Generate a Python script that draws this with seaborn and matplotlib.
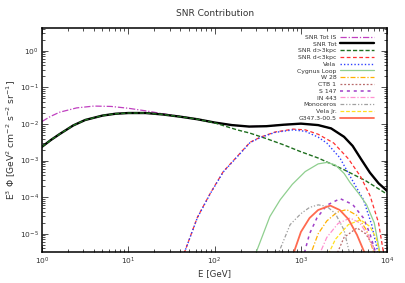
import numpy as np
import pandas as pd
import seaborn as sns
import matplotlib
matplotlib.use("Agg")
import matplotlib.pyplot as plt
from matplotlib.ticker import LogLocator, NullFormatter

# values, as log10(E/GeV) and log10(E^3 Phi)
tot_logE = [0.0, 0.1, 0.2, 0.36, 0.5, 0.7, 0.85, 1.0, 1.2, 1.4, 1.6, 1.8, 2.0, 2.2, 2.4, 2.6, 2.8, 3.0, 3.2, 3.35, 3.5, 3.6, 3.7, 3.8, 3.9, 4.0]
tot_logF = [-2.62, -2.44, -2.28, -2.04, -1.89, -1.77, -1.72, -1.70, -1.70, -1.74, -1.80, -1.87, -1.96, -2.03, -2.07, -2.06, -2.02, -1.99, -2.03, -2.12, -2.35, -2.60, -2.97, -3.33, -3.62, -3.83]

totis_logE = [0.0, 0.1, 0.2, 0.4, 0.6, 0.8, 1.0, 1.2, 1.4, 1.6, 1.8, 2.0, 2.2, 2.4, 2.6, 2.8, 3.0, 3.2, 3.35, 3.5, 3.6, 3.7, 3.8, 3.9, 4.0]
totis_logF = [-1.93, -1.79, -1.68, -1.56, -1.51, -1.52, -1.57, -1.64, -1.72, -1.79, -1.87, -1.96, -2.03, -2.07, -2.06, -2.02, -1.99, -2.03, -2.12, -2.35, -2.60, -2.97, -3.33, -3.62, -3.83]

far_logE = [0.0, 0.1, 0.2, 0.36, 0.5, 0.7, 0.85, 1.0, 1.2, 1.4, 1.6, 1.8, 2.0, 2.26, 2.41, 2.6, 2.8, 2.99, 3.2, 3.5, 3.75, 4.0]
far_logF = [-2.62, -2.44, -2.28, -2.04, -1.89, -1.77, -1.72, -1.70, -1.70, -1.74, -1.80, -1.87, -1.97, -2.16, -2.25, -2.40, -2.57, -2.75, -2.93, -3.25, -3.55, -3.92]

near_logE = [1.62, 1.8, 1.95, 2.1, 2.26, 2.41, 2.53, 2.7, 2.91, 3.05, 3.2, 3.38, 3.55, 3.69, 3.8, 3.9, 3.97]
near_logF = [-5.7, -4.55, -3.89, -3.30, -2.89, -2.50, -2.36, -2.22, -2.14, -2.16, -2.28, -2.52, -2.95, -3.43, -3.95, -4.7, -5.7]

vela_logE = [1.62, 1.8, 1.95, 2.1, 2.26, 2.41, 2.53, 2.7, 2.91, 3.05, 3.2, 3.3, 3.45, 3.57, 3.725, 3.82, 3.91]
vela_logF = [-5.7, -4.56, -3.90, -3.31, -2.90, -2.51, -2.37, -2.23, -2.16, -2.20, -2.36, -2.52, -2.92, -3.43, -4.07, -4.75, -5.7]

cyg_logE = [2.45, 2.64, 2.76, 2.9, 3.05, 3.2, 3.3, 3.4, 3.5, 3.57, 3.67, 3.76, 3.85, 3.93]
cyg_logF = [-5.7, -4.53, -4.07, -3.65, -3.30, -3.09, -3.05, -3.12, -3.35, -3.60, -3.90, -4.20, -4.70, -5.7]

w28_logE = [3.09, 3.2, 3.3, 3.42, 3.53, 3.65, 3.76, 3.87]
w28_logF = [-5.7, -5.0, -4.65, -4.41, -4.34, -4.50, -4.90, -5.7]

ctb1_logE = [3.39, 3.5, 3.65, 3.75, 3.83, 3.89]
ctb1_logF = [-5.7, -5.1, -4.84, -5.0, -5.3, -5.7]

s147_logE = [3.02, 3.1, 3.185, 3.3, 3.455, 3.6, 3.725, 3.8, 3.89]
s147_logF = [-5.7, -5.0, -4.57, -4.22, -4.04, -4.20, -4.57, -5.0, -5.7]

in443_logE = [3.19, 3.3, 3.43, 3.57, 3.68, 3.78, 3.89]
in443_logF = [-5.7, -5.1, -4.72, -4.57, -4.70, -5.05, -5.7]

mono_logE = [2.71, 2.875, 3.0, 3.1, 3.2, 3.3, 3.4, 3.5, 3.58]
mono_logF = [-5.7, -4.75, -4.45, -4.28, -4.21, -4.25, -4.45, -4.90, -5.7]

velajr_logE = [3.29, 3.4, 3.55, 3.69, 3.8, 3.87, 3.93]
velajr_logF = [-5.7, -5.15, -4.75, -4.62, -4.80, -5.10, -5.7]

g347_logE = [2.89, 3.0, 3.1, 3.2, 3.34, 3.45, 3.55, 3.65, 3.77]
g347_logF = [-5.7, -4.95, -4.57, -4.35, -4.23, -4.35, -4.60, -5.03, -5.7]

xticks = [1, 10, 100, 1000, 10000]
yticks = [1e-5, 1e-4, 1e-3, 1e-2, 1e-1, 1]

curves = [
    ("SNR Tot IS", totis_logE, totis_logF, "#c040c0", (5, 1.5, 1, 1.5), 0.9),
    ("SNR Tot", tot_logE, tot_logF, "black", None, 1.7),
    ("SNR d>3kpc", far_logE, far_logF, "#1f6f1f", (3, 1.5), 1.0),
    ("SNR d<3kpc", near_logE, near_logF, "#ff3030", (3, 2), 0.9),
    ("Vela", vela_logE, vela_logF, "#3040ff", (1, 1.5), 1.0),
    ("Cygnus Loop", cyg_logE, cyg_logF, "#8fcf8f", None, 0.9),
    ("W 28", w28_logE, w28_logF, "#ffb000", (4, 1.5, 1, 1.5), 0.9),
    ("CTB 1", ctb1_logE, ctb1_logF, "#b86a6a", (1.5, 1.5), 0.9),
    ("S 147", s147_logE, s147_logF, "#a040c8", (2, 2.5), 1.1),
    ("IN 443", in443_logE, in443_logF, "#ff90d0", (4, 1.5, 1, 1.5), 0.9),
    ("Monoceros", mono_logE, mono_logF, "#a0a0a0", (3, 1.5, 1, 1.5, 1, 1.5), 0.9),
    ("Vela Jr.", velajr_logE, velajr_logF, "#ffe020", (3, 1.5), 0.9),
    ("G347.3-00.5", g347_logE, g347_logF, "#ff6a50", None, 1.3),
]

sns.set_style("ticks")
plt.rcParams['font.family'] = ['DejaVu Sans']
plt.rcParams['mathtext.fontset'] = 'dejavusans'

fig = plt.figure(figsize=(4.05, 2.83), dpi=100)
ax = fig.add_axes([0.104, 0.11, 0.852, 0.791])

for name, lx, ly, col, dash, lw in curves:
    df = pd.DataFrame({"E": 10 ** np.array(lx), "F": 10 ** np.array(ly)})
    sns.lineplot(data=df, x="E", y="F", ax=ax, color=col, lw=lw,
                 label=name, sort=False)
    l = ax.get_lines()[-1]
    if dash is not None:
        l.set_dashes(dash)

ax.set_xscale("log")
ax.set_yscale("log")
ax.set_xticks(xticks)
ax.set_yticks(yticks)
ax.xaxis.set_minor_locator(LogLocator(base=10, subs=np.arange(2, 10), numticks=20))
ax.yaxis.set_minor_locator(LogLocator(base=10, subs=np.arange(2, 10), numticks=20))
ax.xaxis.set_minor_formatter(NullFormatter())
ax.yaxis.set_minor_formatter(NullFormatter())
ax.set_xlim(1, 1e4)
ax.set_ylim(3.2e-6, 4.2)
ax.tick_params(which="both", direction="in", top=True, right=True, colors="#333333",
               labelsize=5.4, width=0.6)
ax.tick_params(which="major", length=4)
ax.tick_params(which="minor", length=2.2)
ax.tick_params(axis="x", pad=2.5)
ax.tick_params(axis="y", pad=2.5)
for s in ax.spines.values():
    s.set_linewidth(1.1)
    s.set_color("black")

ax.set_title("SNR Contribution", fontsize=6.5, color="#333333", pad=9)
ax.set_xlabel("E [GeV]", fontsize=6.2, color="#333333", labelpad=1.5)
ax.set_ylabel(r"E$^3$ $\Phi$ [GeV$^2$ cm$^{-2}$ s$^{-2}$ sr$^{-1}$]", fontsize=6.6,
              color="#333333", labelpad=1.5)

leg = ax.legend(loc="upper right", bbox_to_anchor=(0.975, 0.99), frameon=False,
                fontsize=4.4, markerfirst=False, handlelength=5.6, labelspacing=0.24,
                handletextpad=0.6, borderpad=0.2)
for t in leg.get_texts():
    t.set_color("#333333")

fig.savefig("out.png", dpi=100)
